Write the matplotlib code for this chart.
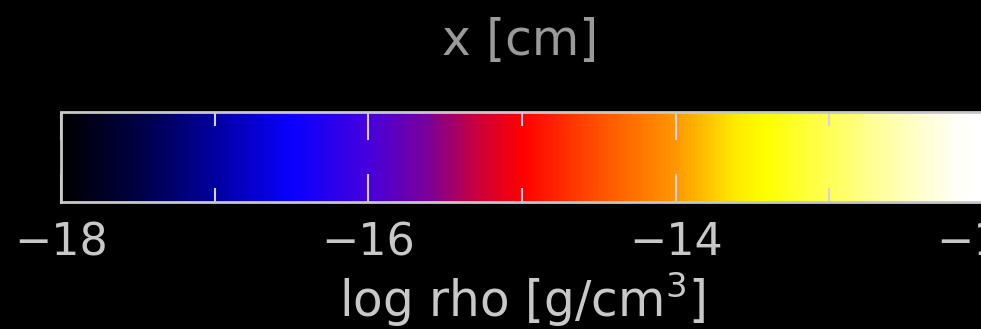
import numpy as np
import matplotlib.pyplot as plt
from matplotlib.colors import LinearSegmentedColormap, Normalize
from matplotlib.cm import ScalarMappable

# density range shown on the colour bar (log10 g/cm^3)
rho_min = -18.0
rho_max = -12.0
major_ticks = [-18, -16, -14, -12]
minor_ticks = [-17, -15, -13]

# colour table nodes: log rho value -> rgb
node_vals = [-18.0, -17.5, -17.0, -16.5, -16.0, -15.6, -15.3, -15.0,
             -14.5, -14.0, -13.6, -13.4, -12.7, -12.15, -12.0]
node_rgb = [(0, 0, 0), (0, 0, 70), (0, 0, 160), (10, 0, 255), (70, 0, 220),
            (125, 0, 150), (200, 0, 60), (255, 0, 0), (255, 80, 0),
            (255, 150, 0), (255, 235, 0), (255, 255, 0), (255, 255, 150),
            (255, 255, 250), (255, 255, 255)]

pos = [(v - rho_min) / (rho_max - rho_min) for v in node_vals]
cols = [tuple(c / 255.0 for c in rgb) for rgb in node_rgb]
cmap = LinearSegmentedColormap.from_list("rho", list(zip(pos, cols)))

W, H = 981, 329
fig = plt.figure(figsize=(W / 100, H / 100), dpi=100, facecolor="black")

x0, x1 = 61, 983
y_top, y_bot = 112, 202
cax = fig.add_axes([x0 / W, (H - y_bot) / H, (x1 - x0) / W, (y_bot - y_top) / H])

sm = ScalarMappable(norm=Normalize(rho_min, rho_max), cmap=cmap)
cb = fig.colorbar(sm, cax=cax, orientation="horizontal")
cb.outline.set_edgecolor("#c8c8c8")
cb.outline.set_linewidth(2)

fg = "#c8c8c8"
cax.set_xticks(major_ticks)
cax.set_xticks(minor_ticks, minor=True)
cax.set_xticklabels(["\u221218", "\u221216", "\u221214", "\u221212"])
cax.tick_params(axis="x", which="both", direction="in", top=True, bottom=True,
                colors=fg, labelsize=32, pad=14)
cax.tick_params(axis="x", which="major", length=20, width=1.5, color="#d8d0e8")
cax.tick_params(axis="x", which="minor", length=10, width=1.5, color="#d8d0e8")
for lab in cax.get_xticklabels():
    lab.set_color(fg)

cax.set_xlabel(r"log rho [g/cm$^3$]", color=fg, fontsize=35, labelpad=4)

# axis title of the plot above, partly in view
fig.text(520 / W, 1 - 41 / H, "x [cm]", color="#9a9a9a", fontsize=35,
         ha="center", va="center")

fig.savefig("out.png", dpi=100, facecolor="black")
